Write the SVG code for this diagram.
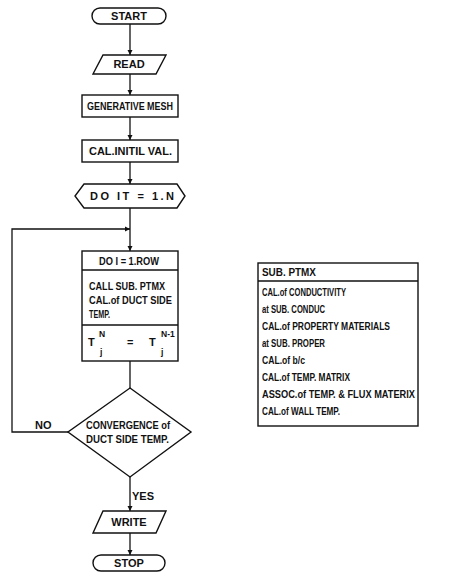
<svg xmlns="http://www.w3.org/2000/svg" width="474" height="580" viewBox="0 0 474 580">
<defs>
<style>
.s{fill:#fff;stroke:#111;stroke-width:1.4}
.c{fill:none;stroke:#111;stroke-width:1.3}
.t{font-family:"Liberation Sans",Arial,sans-serif;font-size:11px;font-weight:bold;fill:#111}
.m{text-anchor:middle}
.sm{font-family:"Liberation Sans",Arial,sans-serif;font-size:8.5px;font-weight:bold;fill:#111}
</style>
<marker id="ah" markerWidth="6" markerHeight="6" refX="5" refY="3" orient="auto" markerUnits="userSpaceOnUse">
<path d="M0,0.5 L5,3 L0,5.5 Z" fill="#111"/>
</marker>
</defs>
<rect width="474" height="580" fill="#fff"/>
<g id="connectors">
<line class="c" x1="130" y1="24" x2="130" y2="55" marker-end="url(#ah)"/>
<line class="c" x1="130" y1="74" x2="130" y2="95" marker-end="url(#ah)"/>
<line class="c" x1="130" y1="117" x2="130" y2="140" marker-end="url(#ah)"/>
<line class="c" x1="130" y1="162" x2="130" y2="184" marker-end="url(#ah)"/>
<line class="c" x1="130" y1="208" x2="130" y2="251" marker-end="url(#ah)"/>
<polyline class="c" points="68,432 12,432 12,229 130,229" marker-end="url(#ah)"/>
<line class="c" x1="130" y1="361" x2="130" y2="388"/>
<line class="c" x1="130" y1="477" x2="130" y2="511" marker-end="url(#ah)"/>
<line class="c" x1="130" y1="533" x2="130" y2="555" marker-end="url(#ah)"/>
<text class="t" x="35" y="429">NO</text>
<text class="t" x="132" y="500">YES</text>
</g>
<g id="start">
<rect class="s" x="92" y="8" width="74" height="16" rx="8"/>
<text class="t m" x="129" y="20">START</text>
</g>
<g id="read">
<polygon class="s" points="103,55 166,55 156,74 93,74"/>
<text class="t m" x="129" y="68">READ</text>
</g>
<g id="mesh">
<rect class="s" x="82" y="95" width="96" height="22"/>
<text class="t" x="87" y="110" textLength="86" lengthAdjust="spacingAndGlyphs">GENERATIVE  MESH</text>
</g>
<g id="initval">
<rect class="s" x="82" y="140" width="96" height="22"/>
<text class="t" x="89" y="155" textLength="83" lengthAdjust="spacingAndGlyphs">CAL.INITIL  VAL.</text>
</g>
<g id="loopit">
<polygon class="s" points="84,184 177,184 185,196 177,208 84,208 75,196"/>
<text class="t" x="90" y="200" textLength="84" lengthAdjust="spacing">DO  IT  =  1.N</text>
</g>
<g id="loopi">
<rect class="s" x="82" y="251" width="96" height="110"/>
<line class="c" x1="82" y1="270" x2="178" y2="270"/>
<line class="c" x1="82" y1="325" x2="178" y2="325"/>
<text class="t" x="99" y="265" textLength="60" lengthAdjust="spacingAndGlyphs">DO I = 1.ROW</text>
<text class="t" x="89" y="290" textLength="76" lengthAdjust="spacingAndGlyphs">CALL SUB. PTMX</text>
<text class="t" x="89" y="304" textLength="83" lengthAdjust="spacingAndGlyphs">CAL.of DUCT SIDE</text>
<text class="t" x="89" y="318" textLength="21" lengthAdjust="spacingAndGlyphs">TEMP.</text>
<text class="t" x="88" y="346">T</text>
<text class="sm" x="99" y="337">N</text>
<text class="sm" x="100" y="355">j</text>
<text class="t" x="127" y="346">=</text>
<text class="t" x="149" y="346">T</text>
<text class="sm" x="161" y="337">N-1</text>
<text class="sm" x="161" y="355">j</text>
</g>
<g id="converge">
<polygon class="s" points="130,388 191,432 130,477 68,432"/>
<text class="t" x="86" y="429" textLength="84" lengthAdjust="spacingAndGlyphs">CONVERGENCE of</text>
<text class="t" x="86" y="443" textLength="83" lengthAdjust="spacingAndGlyphs">DUCT SIDE TEMP.</text>
</g>
<g id="write">
<polygon class="s" points="103,511 166,511 156,533 93,533"/>
<text class="t m" x="129" y="526">WRITE</text>
</g>
<g id="stop">
<rect class="s" x="93" y="555" width="72" height="16" rx="8"/>
<text class="t m" x="129" y="567">STOP</text>
</g>
<g id="ptmx">
<rect class="s" x="258" y="263" width="160" height="163"/>
<line class="c" x1="258" y1="281" x2="418" y2="281"/>
<text class="t" x="262" y="276" textLength="54" lengthAdjust="spacingAndGlyphs">SUB.  PTMX</text>
<text class="t" x="262" y="296" textLength="84" lengthAdjust="spacingAndGlyphs">CAL.of CONDUCTIVITY</text>
<text class="t" x="262" y="313" textLength="63" lengthAdjust="spacingAndGlyphs">at SUB. CONDUC</text>
<text class="t" x="262" y="330" textLength="128" lengthAdjust="spacingAndGlyphs">CAL.of PROPERTY  MATERIALS</text>
<text class="t" x="262" y="347" textLength="63" lengthAdjust="spacingAndGlyphs">at  SUB. PROPER</text>
<text class="t" x="262" y="364" textLength="43" lengthAdjust="spacingAndGlyphs">CAL.of  b/c</text>
<text class="t" x="262" y="381" textLength="88" lengthAdjust="spacingAndGlyphs">CAL.of TEMP. MATRIX</text>
<text class="t" x="262" y="398" textLength="153" lengthAdjust="spacingAndGlyphs">ASSOC.of TEMP. &amp; FLUX MATERIX</text>
<text class="t" x="262" y="415" textLength="78" lengthAdjust="spacingAndGlyphs">CAL.of WALL TEMP.</text>
</g>
</svg>
